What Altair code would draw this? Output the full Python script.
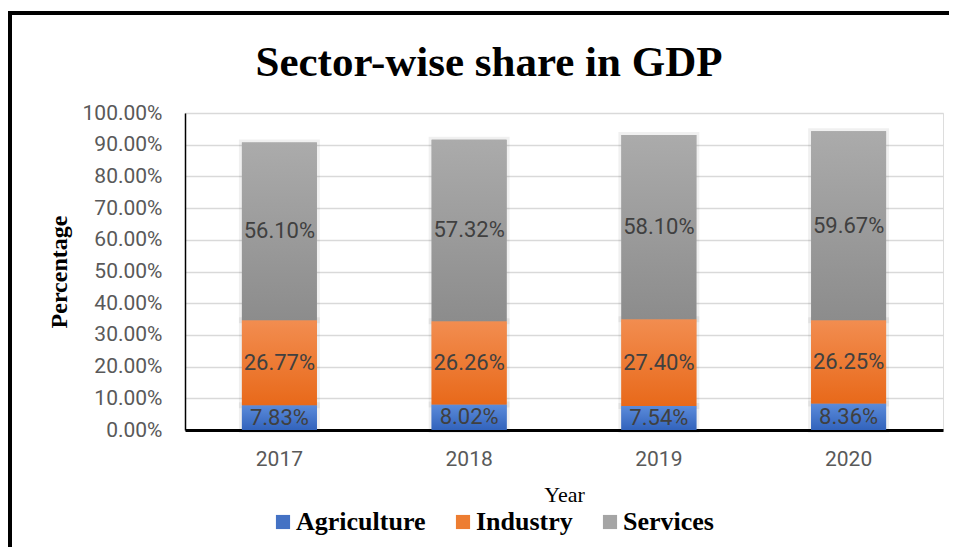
import altair as alt
import pandas as pd

years = ["2017", "2018", "2019", "2020"]
sectors = ["Agriculture", "Industry", "Services"]
agriculture = [7.83, 8.02, 7.54, 8.36]
industry = [26.77, 26.26, 27.40, 26.25]
services = [56.10, 57.32, 58.10, 59.67]
y_ticks = [0, 10, 20, 30, 40, 50, 60, 70, 80, 90, 100]
chart_title = "Sector-wise share in GDP"

solid = ["#4472C4", "#ED7D31", "#A5A5A5"]
grad_top = ["#5B8BDA", "#F28D50", "#ABABAB"]
grad_bot = ["#3263BC", "#E8691A", "#8C8C8C"]

rows = []
for i, y in enumerate(years):
    for k, (s, vals) in enumerate(zip(sectors, [agriculture, industry, services])):
        rows.append({"year": y, "sector": s, "order": k, "value": vals[i]})
df = pd.DataFrame(rows)

W, H = 758, 317
SERIF = "Liberation Serif"
SANS = "Roboto"

xscale = alt.Scale(domain=years, paddingInner=0.605, paddingOuter=0.3)
yscale = alt.Scale(domain=[0, 100], nice=False)

xaxis = alt.Axis(title="Year", labelFont=SANS, labelFontSize=21, labelColor="#595959",
                 labelPadding=18, ticks=False, domainColor="black", domainWidth=3,
                 titleFont=SERIF, titleFontSize=22, titleFontWeight="normal",
                 titleColor="black", titlePadding=15, labelAngle=0)
yaxis = alt.Axis(title="Percentage", values=y_ticks, tickCount=11, labelOverlap=False,
                 labelExpr="format(datum.value, '.2f') + '%'",
                 labelFont=SANS, labelFontSize=21, labelColor="#595959",
                 labelPadding=23, ticks=False, domainColor="black", domainWidth=1.5,
                 gridColor="#D9D9D9", gridWidth=1.5,
                 titleFont=SERIF, titleFontSize=24, titleFontWeight="bold",
                 titleColor="black", titlePadding=11)

base = alt.Chart(df).transform_stack(
    stack="value", groupby=["year"], as_=["y0", "y1"],
    sort=[alt.SortField("order", order="ascending")]
)

xenc = alt.X("year:N", scale=xscale, sort=years, axis=xaxis)
yenc = alt.Y("y0:Q", scale=yscale, axis=yaxis)

shadow = base.mark_bar(stroke="#000000", strokeOpacity=0.06, strokeWidth=6, fill="#000000",
                       fillOpacity=0.05).encode(x=xenc, y=yenc, y2="y1:Q")

solid_bars = base.mark_bar().encode(
    x=xenc, y=yenc, y2="y1:Q",
    color=alt.Color("sector:N", scale=alt.Scale(domain=sectors, range=solid),
                    legend=alt.Legend(title=None, orient="none", direction="horizontal",
                                      legendX=85, legendY=396, symbolType="square",
                                      symbolSize=200, symbolStrokeWidth=0,
                                      labelFont=SERIF, labelFontSize=26, labelFontWeight="bold",
                                      labelColor="black", labelOffset=0, columnPadding=24)),
)

grad_layers = []
for s, t, b in zip(sectors, grad_top, grad_bot):
    g = alt.Gradient(gradient="linear",
                     stops=[alt.GradientStop(color=t, offset=0), alt.GradientStop(color=b, offset=1)],
                     x1=0, x2=0, y1=0, y2=1)
    grad_layers.append(
        base.transform_filter(alt.datum.sector == s).mark_bar(color=g).encode(
            x=xenc, y=yenc, y2="y1:Q")
    )

labels = base.transform_calculate(
    mid="(datum.y0 + datum.y1) / 2",
    label="format(datum.value, '.2f') + '%'"
).mark_text(font=SANS, fontSize=22, color="#404040", baseline="middle").encode(
    x=xenc, y=alt.Y("mid:Q", scale=yscale, axis=yaxis), text="label:N")

one = pd.DataFrame({"t": [chart_title]})
title_mark = alt.Chart(one).mark_text(font=SERIF, fontSize=43, fontWeight="bold", color="black",
                                      align="center", baseline="alphabetic").encode(
    x=alt.value(304), y=alt.value(-37), text="t:N")

frame_top = alt.Chart(one).mark_rule(color="black", strokeWidth=4).encode(
    x=alt.value(-177), x2=alt.value(W + 20), y=alt.value(-100))
frame_left = alt.Chart(one).mark_rule(color="black", strokeWidth=4).encode(
    x=alt.value(-175), y=alt.value(-102), y2=alt.value(H + 140))

chart = alt.layer(shadow, solid_bars, *grad_layers, labels, title_mark, frame_top, frame_left).properties(
    width=W, height=H,
    padding={"left": 177, "top": 105, "right": 6, "bottom": 117},
    autosize=alt.AutoSizeParams(type="none"),
).configure_view(stroke=None).configure(background="white")

chart.save("out.html", embed_options={"renderer": "svg", "actions": False})
